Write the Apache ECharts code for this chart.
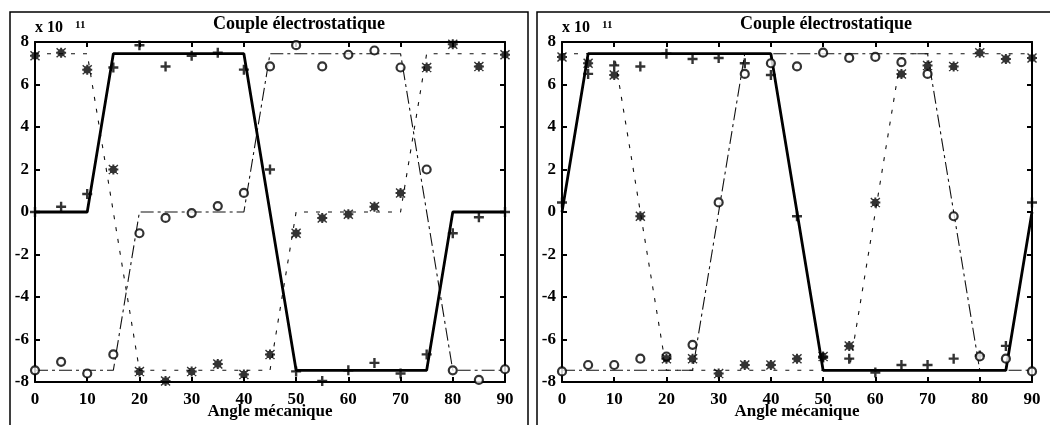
<!DOCTYPE html>
<html>
<head>
<meta charset="utf-8">
<script src="https://cdn.jsdelivr.net/npm/echarts@6/dist/echarts.min.js"></script>
<style>
html,body{margin:0;padding:0;background:#fff;}
#chart{width:1050px;height:425px;}
</style>
</head>
<body>
<div id="chart"></div>
<script>
// ---------- data (values in units of 10^11) ----------
const angles = [0,5,10,15,20,25,30,35,40,45,50,55,60,65,70,75,80,85,90];
const xTicks = [0,10,20,30,40,50,60,70,80,90];
const yTicks = [-8,-6,-4,-2,0,2,4,6,8];
const titleText = 'Couple électrostatique';
const xName = 'Angle mécanique';

// left panel markers
const leftPlus   = [0, 0.25, 0.85, 6.8, 7.85, 6.85, 7.35, 7.5, 6.7, 2.0, -7.5, -7.95, -7.45, -7.1, -7.6, -6.7, -1.0, -0.25, 0];
const leftCircle = [-7.45, -7.05, -7.6, -6.7, -1.0, -0.28, -0.05, 0.28, 0.9, 6.85, 7.85, 6.85, 7.4, 7.6, 6.8, 2.0, -7.45, -7.9, -7.4];
const leftStar   = [7.35, 7.5, 6.7, 2.0, -7.5, -7.95, -7.5, -7.15, -7.65, -6.7, -1.0, -0.28, -0.1, 0.25, 0.9, 6.8, 7.9, 6.85, 7.4];
// left panel ideal curves
const leftSolidX = [0,10,15,40,50,75,80,90];
const leftSolidY = [0,0,7.45,7.45,-7.45,-7.45,0,0];
const leftCircLineX = [0,15,20,40,45,70,80,90];
const leftCircLineY = [-7.45,-7.45,0,0,7.45,7.45,-7.45,-7.45];
const leftStarLineX = [0,10,20,45,50,70,75,90];
const leftStarLineY = [7.45,7.45,-7.45,-7.45,0,0,7.45,7.45];

// right panel markers
const rightPlus   = [0.45, 6.5, 6.9, 6.85, 7.45, 7.2, 7.25, 7.0, 6.45, -0.2, -6.85, -6.9, -7.55, -7.2, -7.2, -6.9, -6.75, -6.3, 0.45];
const rightCircle = [-7.5, -7.2, -7.2, -6.9, -6.8, -6.25, 0.45, 6.5, 7.0, 6.85, 7.5, 7.25, 7.3, 7.05, 6.5, -0.2, -6.8, -6.9, -7.5];
const rightStar   = [7.3, 7.0, 6.45, -0.2, -6.9, -6.9, -7.6, -7.2, -7.2, -6.9, -6.8, -6.3, 0.45, 6.5, 6.9, 6.85, 7.5, 7.2, 7.25];
// right panel ideal curves
const rightSolidX = [0,5,40,50,85,90];
const rightSolidY = [0,7.45,7.45,-7.45,-7.45,0];
const rightCircLineX = [0,25,35,70,80,90];
const rightCircLineY = [-7.45,-7.45,7.45,7.45,-7.45,-7.45];
const rightStarLineX = [0,10,20,55,65,90];
const rightStarLineY = [7.45,7.45,-7.45,-7.45,7.45,7.45];

// ---------- helpers ----------
const FONT = '"Liberation Serif", "Times New Roman", serif';
const zip = (xs, ys) => xs.map((x, i) => [x, ys[i]]);
const PLUS = 'path://M3.8,0H6.2V3.8H10V6.2H6.2V10H3.8V6.2H0V3.8H3.8Z';
const STAR = 'path://M4,0H6V4H10V6H6V10H4V6H0V4H4Z M1,0L5,4L9,0L10,1L6,5L10,9L9,10L5,6L1,10L0,9L4,5L0,1Z M1.5,1.5H8.5V8.5H1.5Z';

const panels = [
  {left: 35, plus: leftPlus, circ: leftCircle, star: leftStar,
   solid: zip(leftSolidX, leftSolidY), cline: zip(leftCircLineX, leftCircLineY), sline: zip(leftStarLineX, leftStarLineY)},
  {left: 562, plus: rightPlus, circ: rightCircle, star: rightStar,
   solid: zip(rightSolidX, rightSolidY), cline: zip(rightCircLineX, rightCircLineY), sline: zip(rightStarLineX, rightStarLineY)}
];

const grid = [], xAxis = [], yAxis = [], series = [], graphic = [];
const axisLine = {show: true, onZero: false, lineStyle: {color: '#000', width: 2}};
const tick = {show: true, inside: true, length: 5, lineStyle: {color: '#000', width: 2}};

panels.forEach((p, i) => {
  grid.push({left: p.left, top: 42, width: 470, height: 343, containLabel: false});
  xAxis.push({type: 'value', gridIndex: i, min: 0, max: 90, interval: 10, position: 'bottom',
    axisLine, axisTick: tick, splitLine: {show: false},
    axisLabel: {show: true, margin: 9, color: '#000', fontFamily: FONT, fontWeight: 'bold', fontSize: 17,
      formatter: v => xTicks.includes(v) ? String(v) : ''},
    name: xName, nameLocation: 'middle', nameGap: 21, nameMoveOverlap: false,
    nameTextStyle: {color: '#000', fontFamily: FONT, fontWeight: 'bold', fontSize: 17, verticalAlign: 'top'}});
  xAxis.push({type: 'value', gridIndex: i, min: 0, max: 90, interval: 10, position: 'top',
    axisLine, axisTick: tick, splitLine: {show: false}, axisLabel: {show: false}});
  yAxis.push({type: 'value', gridIndex: i, min: -8, max: 8, interval: 2, position: 'left',
    axisLine, axisTick: tick, splitLine: {show: false},
    axisLabel: {show: true, margin: 6, color: '#000', fontFamily: FONT, fontWeight: 'bold', fontSize: 17,
      formatter: v => yTicks.includes(v) ? String(v) : ''}});
  yAxis.push({type: 'value', gridIndex: i, min: -8, max: 8, interval: 2, position: 'right',
    axisLine, axisTick: tick, splitLine: {show: false}, axisLabel: {show: false}});

  const xi = i * 2, yi = i * 2;
  series.push({type: 'line', xAxisIndex: xi, yAxisIndex: yi, data: p.solid, showSymbol: false, symbol: 'none',
    lineStyle: {color: '#000', width: 2.8}, z: 3});
  series.push({type: 'line', xAxisIndex: xi, yAxisIndex: yi, data: p.cline, showSymbol: false, symbol: 'none',
    lineStyle: {color: '#111', width: 1.1, type: [13, 4, 3, 4]}, z: 2});
  series.push({type: 'line', xAxisIndex: xi, yAxisIndex: yi, data: p.sline, showSymbol: false, symbol: 'none',
    lineStyle: {color: '#111', width: 1.1, type: [4, 8]}, z: 2});
  series.push({type: 'scatter', xAxisIndex: xi, yAxisIndex: yi, data: zip(angles, p.plus),
    symbol: PLUS, symbolSize: 10, itemStyle: {color: '#000'}, z: 5});
  series.push({type: 'scatter', xAxisIndex: xi, yAxisIndex: yi, data: zip(angles, p.circ),
    symbol: 'circle', symbolSize: 8, itemStyle: {color: '#fff', borderColor: '#000', borderWidth: 2.2}, z: 5});
  series.push({type: 'scatter', xAxisIndex: xi, yAxisIndex: yi, data: zip(angles, p.star),
    symbol: STAR, symbolSize: 10, itemStyle: {color: '#000'}, z: 5});

  graphic.push({type: 'text', x: p.left + 264, y: 33, z: 10,
    style: {text: titleText, font: 'bold 18px ' + FONT, fill: '#000', textAlign: 'center', textVerticalAlign: 'bottom'}});
  graphic.push({type: 'text', x: p.left, y: 36, z: 10,
    style: {text: 'x 10', font: 'bold 16px ' + FONT, fill: '#000', textAlign: 'left', textVerticalAlign: 'bottom'}});
  graphic.push({type: 'text', x: p.left + 40, y: 31, z: 10,
    style: {text: '11', font: 'bold 11px ' + FONT, fill: '#000', textAlign: 'left', textVerticalAlign: 'bottom'}});
});

graphic.push({type: 'rect', shape: {x: 10, y: 12, width: 518, height: 430}, z: 0,
  style: {fill: 'none', stroke: '#000', lineWidth: 1.5}});
graphic.push({type: 'rect', shape: {x: 537, y: 12, width: 530, height: 430}, z: 0,
  style: {fill: 'none', stroke: '#000', lineWidth: 1.5}});

const chart = echarts.init(document.getElementById('chart'), null, {renderer: 'canvas'});
chart.setOption({
  animation: false,
  backgroundColor: '#fff',
  grid, xAxis, yAxis, series, graphic
});
</script>
</body>
</html>
